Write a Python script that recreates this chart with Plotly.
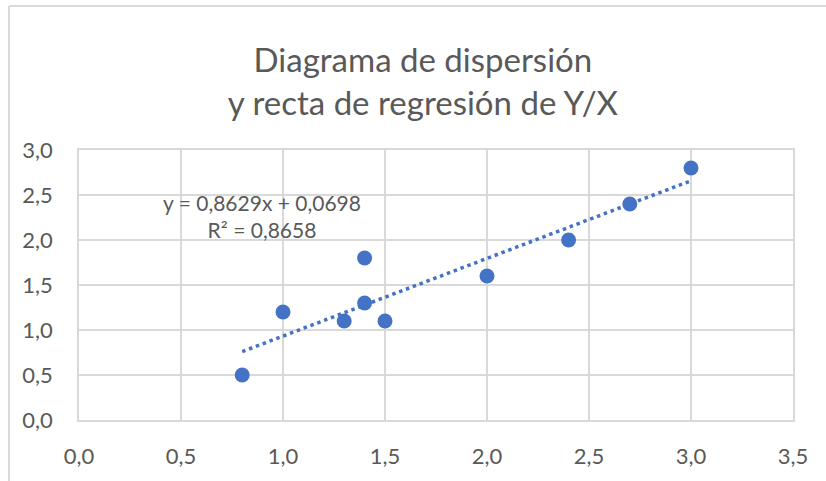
import plotly.graph_objects as go

x_vals = [0.8, 1.0, 1.3, 1.4, 1.4, 1.5, 2.0, 2.4, 2.7, 3.0]
y_vals = [0.5, 1.2, 1.1, 1.8, 1.3, 1.1, 1.6, 2.0, 2.4, 2.8]
slope = 0.8629
intercept = 0.0698
r2 = 0.8658
title_lines = ["Diagrama de dispersión", "y recta de regresión de Y/X"]
x_ticks = [0.0, 0.5, 1.0, 1.5, 2.0, 2.5, 3.0, 3.5]
y_ticks = [0.0, 0.5, 1.0, 1.5, 2.0, 2.5, 3.0]

def fmt(v):
    return f"{v:.1f}".replace(".", ",")

BLUE = "#4472C4"
GRID = "#d9d9d9"
TXT = "#595959"
FONT = "Lato"

trend_x = [min(x_vals), max(x_vals)]
trend_y = [slope * v + intercept for v in trend_x]

fig = go.Figure()
fig.add_trace(go.Scatter(x=trend_x, y=trend_y, mode="lines",
                         line=dict(color=BLUE, width=3.5, dash="3.5px,3.8px"),
                         hoverinfo="skip", showlegend=False))
fig.add_trace(go.Scatter(x=x_vals, y=y_vals, mode="markers",
                         marker=dict(color=BLUE, size=15, line=dict(width=0)),
                         showlegend=False))

W, H = 826, 481
L, R, T, B = 79, 33, 150, 59
pw, ph = W - L - R, H - T - B

def px_to_paper_x(px):
    return (px - L) / pw

def px_to_paper_y(py):
    return (H - B - py) / ph

fig.update_layout(
    width=W, height=H,
    margin=dict(l=L, r=R, t=T, b=B),
    paper_bgcolor="white", plot_bgcolor="white",
    font=dict(family=FONT, color=TXT),
    title=dict(text="<br>".join(title_lines), x=0.512, xanchor="center",
               y=1 - 72 / H, yanchor="middle",
               font=dict(family=FONT, size=33, color=TXT)),
    xaxis=dict(range=[0, 3.5], tickvals=x_ticks, ticktext=[fmt(v) for v in x_ticks],
               showgrid=True, gridcolor=GRID, gridwidth=1.5,
               showline=True, linecolor=GRID, linewidth=1.5, mirror=True,
               zeroline=False, ticks="", ticklabelstandoff=16,
               tickfont=dict(family=FONT, size=22, color=TXT)),
    yaxis=dict(range=[0, 3.0], tickvals=y_ticks, ticktext=[fmt(v) for v in y_ticks],
               showgrid=True, gridcolor=GRID, gridwidth=1.5,
               showline=True, linecolor=GRID, linewidth=1.5, mirror=True,
               zeroline=False, ticks="", ticklabelstandoff=20,
               tickfont=dict(family=FONT, size=22, color=TXT)),
    shapes=[
        dict(type="line", xref="paper", yref="paper",
             x0=px_to_paper_x(9), x1=px_to_paper_x(9),
             y0=px_to_paper_y(5), y1=px_to_paper_y(490),
             line=dict(color=GRID, width=2)),
        dict(type="line", xref="paper", yref="paper",
             x0=px_to_paper_x(9), x1=px_to_paper_x(840),
             y0=px_to_paper_y(5), y1=px_to_paper_y(5),
             line=dict(color=GRID, width=2)),
    ],
    annotations=[
        dict(xref="paper", yref="paper", x=px_to_paper_x(262), y=px_to_paper_y(216),
             xanchor="center", yanchor="middle", showarrow=False, align="center",
             text=f"y = {slope:.4f}x + {intercept:.4f}".replace(".", ",")
                  + "<br>" + f"R² = {r2:.4f}".replace(".", ","),
             font=dict(family=FONT, size=21, color=TXT)),
    ],
)

fig.write_html("out.html", config={"displayModeBar": False},
               post_script="document.body.style.margin='0';document.body.style.overflow='hidden';")
